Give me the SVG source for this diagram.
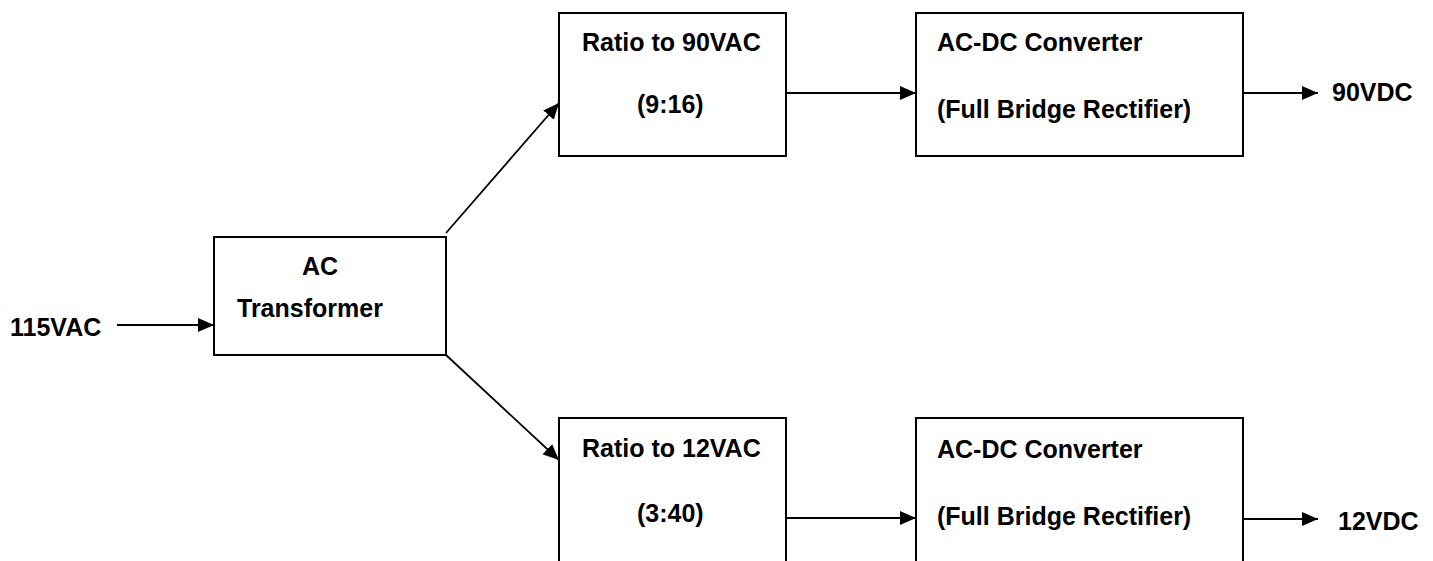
<svg xmlns="http://www.w3.org/2000/svg" width="1433" height="561" viewBox="0 0 1433 561">
<style>
.box{fill:#fff;stroke:#000;stroke-width:2}
.t{font-family:"Liberation Sans",Arial,sans-serif;font-weight:bold;font-size:25px;fill:#000}
.c{fill:none;stroke:#000;stroke-width:1.8}
</style>
<defs>
<marker id="ah" markerUnits="userSpaceOnUse" markerWidth="17" markerHeight="14" refX="16" refY="7" orient="auto">
<path d="M0,0 L16,7 L0,14 z" fill="#000"/>
</marker>
</defs>
<rect width="1433" height="561" fill="#fff"/>
<g id="connectors">
<line class="c" x1="117" y1="325" x2="214" y2="325" marker-end="url(#ah)"/>
<line class="c" x1="446" y1="233" x2="559" y2="103" marker-end="url(#ah)"/>
<line class="c" x1="446" y1="355" x2="559" y2="460" marker-end="url(#ah)"/>
<line class="c" x1="786" y1="93" x2="916" y2="93" marker-end="url(#ah)"/>
<line class="c" x1="786" y1="518" x2="916" y2="518" marker-end="url(#ah)"/>
<line class="c" x1="1243" y1="93" x2="1318" y2="93" marker-end="url(#ah)"/>
<line class="c" x1="1243" y1="519" x2="1318" y2="519" marker-end="url(#ah)"/>
</g>
<g id="in115">
<text class="t" x="10" y="336">115VAC</text>
</g>
<g id="transformer">
<rect class="box" x="214" y="237" width="232" height="118"/>
<text class="t" x="302" y="275">AC</text>
<text class="t" x="237" y="317">Transformer</text>
</g>
<g id="ratio90">
<rect class="box" x="559" y="13" width="227" height="143"/>
<text class="t" x="582" y="51">Ratio to 90VAC</text>
<text class="t" x="637" y="113">(9:16)</text>
</g>
<g id="acdc90">
<rect class="box" x="916" y="13" width="327" height="143"/>
<text class="t" x="937" y="51">AC-DC Converter</text>
<text class="t" x="937" y="118">(Full Bridge Rectifier)</text>
</g>
<g id="out90">
<text class="t" x="1332" y="101">90VDC</text>
</g>
<g id="ratio12">
<rect class="box" x="559" y="418" width="227" height="160"/>
<text class="t" x="582" y="457">Ratio to 12VAC</text>
<text class="t" x="637" y="522">(3:40)</text>
</g>
<g id="acdc12">
<rect class="box" x="916" y="418" width="327" height="160"/>
<text class="t" x="937" y="458">AC-DC Converter</text>
<text class="t" x="937" y="525">(Full Bridge Rectifier)</text>
</g>
<g id="out12">
<text class="t" x="1338" y="530">12VDC</text>
</g>
</svg>
